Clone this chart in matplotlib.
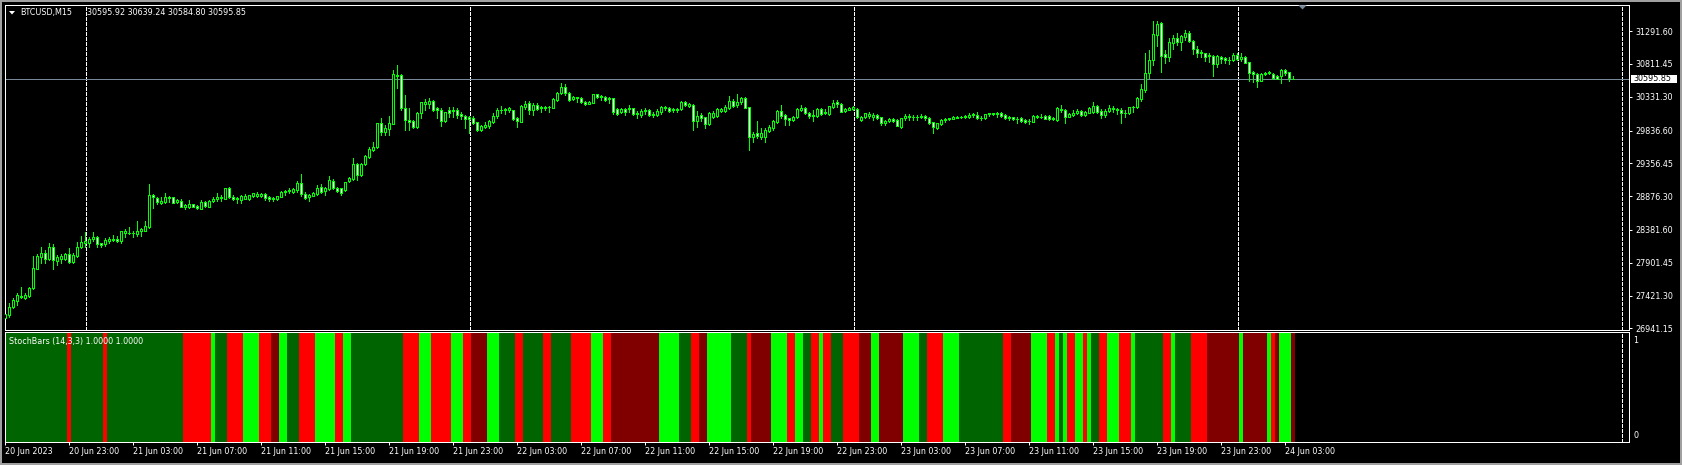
import numpy as np
import pandas as pd
import matplotlib
matplotlib.use("Agg")
import matplotlib.pyplot as plt
from matplotlib.patches import Rectangle, Polygon
import matplotlib.transforms as mtransforms

# ---------------- data ----------------
SYMBOL = "BTCUSD,M15"
HEADER_VALUES = "30595.92 30639.24 30584.80 30595.85"
INDICATOR_NAME = "StochBars (14,3,3) 1.0000 1.0000"
START_TIME = "2023-06-20 19:00"

OPEN = [
    27088, 27137, 27249, 27346, 27415, 27390, 27415, 27527, 27815, 27991,
    28044, 27952, 28132, 27932, 27961, 27956, 28030, 27912, 28005, 28127,
    28195, 28195, 28244, 28278, 28186, 28176, 28225, 28239, 28254, 28215,
    28332, 28337, 28332, 28327, 28361, 28371, 28429, 28888, 28854, 28781,
    28795, 28854, 28859, 28786, 28800, 28713, 28713, 28756, 28737, 28693,
    28791, 28722, 28805, 28830, 28849, 28835, 28995, 28864, 28849, 28820,
    28839, 28839, 28883, 28883, 28878, 28912, 28859, 28849, 28835, 28869,
    28932, 28951, 28942, 28966, 29064, 28912, 28859, 28883, 28908, 29005,
    28947, 28976, 29105, 29000, 28990, 28966, 29098, 29127, 29347, 29186,
    29342, 29444, 29550, 29590, 29942, 29810, 29859, 29937, 30649, 30649,
    30162, 29991, 29976, 29893, 30088, 30220, 30230, 30269, 30161, 30137,
    29976, 30137, 30132, 30132, 30074, 30049, 30030, 30025, 29957, 29844,
    29888, 29908, 29966, 30044, 30132, 30132, 30132, 30132, 30025, 29966,
    30176, 30234, 30137, 30210, 30186, 30171, 30181, 30171, 30283, 30381,
    30479, 30381, 30293, 30322, 30308, 30259, 30225, 30244, 30366, 30327,
    30332, 30293, 30308, 30152, 30103, 30152, 30147, 30161, 30088, 30064,
    30122, 30137, 30074, 30064, 30113, 30171, 30171, 30152, 30132, 30152,
    30249, 30195, 30210, 29981, 30064, 30030, 29927, 30039, 30049, 30127,
    30122, 30171, 30274, 30215, 30249, 30308, 30176, 29747, 29796, 29747,
    29747, 29830, 29869, 29966, 30122, 30064, 30015, 29991, 30030, 30142,
    30171, 30098, 30064, 30054, 30152, 30098, 30074, 30186, 30249, 30225,
    30127, 30142, 30152, 30152, 29996, 30039, 30044, 30039, 30064, 30030,
    29942, 29976, 30005, 29991, 29893, 30015, 30049, 30039, 30030, 30039,
    30049, 30015, 29957, 29879, 29932, 29991, 30000, 30010, 30025, 30039,
    30030, 30034, 30064, 30064, 30020, 30015, 30074, 30074, 30078, 30098,
    30059, 30030, 30030, 30010, 30015, 29991, 29981, 29966, 30049, 30030,
    30049, 30049, 30025, 29991, 30156, 30137, 30040, 30064, 30088, 30127,
    30064, 30098, 30113, 30195, 30127, 30059, 30118, 30147, 30152, 30142,
    30098, 30088, 30176, 30176, 30293, 30430, 30674, 30869, 31234, 31405,
    30956, 30917, 31123, 31186, 31137, 31210, 31269, 31147, 31030, 30991,
    30966, 30942, 30927, 30810, 30917, 30893, 30869, 30869, 30937, 30878,
    30908, 30835, 30698, 30664, 30566, 30664, 30674, 30659, 30640, 30635,
    30722, 30688, 30595.92,
]
HIGH = [
    27161, 27307, 27381, 27454, 27542, 27464, 27552, 28000, 28030, 28132,
    28088, 28186, 28176, 28010, 28030, 28049, 28117, 28039, 28205, 28293,
    28352, 28283, 28352, 28293, 28195, 28259, 28273, 28303, 28293, 28371,
    28391, 28430, 28371, 28517, 28410, 28517, 29054, 28903, 28869, 28864,
    28917, 28878, 28869, 28830, 28830, 28761, 28820, 28766, 28747, 28820,
    28810, 28820, 28859, 28917, 28888, 28995, 29005, 28888, 28869, 28888,
    28908, 28898, 28927, 28932, 28927, 28922, 28878, 28869, 28883, 28956,
    28961, 28990, 29000, 29093, 29200, 28932, 28903, 28937, 29039, 29054,
    29005, 29171, 29130, 29010, 29000, 29090, 29160, 29435, 29366, 29360,
    29480, 29600, 29664, 29952, 30015, 29917, 30049, 30722, 30796, 30659,
    30357, 30162, 29991, 30103, 30259, 30293, 30308, 30279, 30186, 30161,
    30113, 30176, 30176, 30161, 30113, 30064, 30049, 30049, 29966, 29918,
    29966, 29996, 30088, 30161, 30200, 30162, 30181, 30137, 30039, 30210,
    30269, 30269, 30244, 30234, 30200, 30200, 30195, 30308, 30405, 30527,
    30513, 30396, 30347, 30332, 30322, 30274, 30274, 30371, 30376, 30357,
    30347, 30332, 30318, 30162, 30162, 30162, 30210, 30171, 30122, 30147,
    30171, 30147, 30113, 30152, 30200, 30200, 30181, 30171, 30171, 30274,
    30264, 30240, 30220, 30122, 30088, 30039, 30103, 30122, 30161, 30171,
    30210, 30342, 30296, 30371, 30332, 30322, 30186, 29820, 29976, 29879,
    29869, 29918, 29996, 30137, 30210, 30074, 30020, 30054, 30171, 30210,
    30181, 30113, 30137, 30161, 30171, 30152, 30200, 30283, 30283, 30244,
    30161, 30176, 30195, 30161, 30044, 30098, 30103, 30088, 30078, 30039,
    29991, 30015, 30015, 30000, 30025, 30074, 30074, 30064, 30064, 30074,
    30064, 30030, 29966, 29952, 30000, 30015, 30025, 30044, 30054, 30054,
    30059, 30088, 30088, 30103, 30049, 30083, 30098, 30098, 30108, 30108,
    30074, 30049, 30040, 30040, 30030, 30000, 30000, 30059, 30064, 30079,
    30059, 30064, 30030, 30176, 30210, 30147, 30088, 30137, 30147, 30137,
    30122, 30186, 30254, 30205, 30147, 30147, 30210, 30195, 30171, 30161,
    30137, 30186, 30196, 30322, 30518, 30966, 31015, 31444, 31440, 31425,
    31015, 31186, 31235, 31259, 31235, 31308, 31290, 31162, 31074, 31015,
    30976, 30976, 30942, 30937, 30932, 30908, 30908, 30966, 30976, 30966,
    30927, 30844, 30712, 30674, 30674, 30698, 30703, 30674, 30649, 30732,
    30742, 30698, 30639.24,
]
LOW = [
    27024, 27112, 27239, 27283, 27381, 27366, 27395, 27517, 27805, 27893,
    27903, 27942, 27815, 27873, 27903, 27942, 27893, 27903, 27991, 28117,
    28137, 28137, 28225, 28137, 28137, 28151, 28195, 28225, 28200, 28186,
    28273, 28322, 28283, 28288, 28298, 28361, 28415, 28708, 28761, 28756,
    28771, 28795, 28771, 28776, 28713, 28683, 28703, 28713, 28688, 28683,
    28722, 28713, 28791, 28810, 28810, 28830, 28849, 28820, 28781, 28771,
    28830, 28820, 28869, 28869, 28869, 28820, 28810, 28810, 28825, 28859,
    28888, 28927, 28927, 28942, 28878, 28839, 28810, 28873, 28898, 28917,
    28893, 28966, 28985, 28930, 28900, 28950, 29080, 29115, 29110, 29170,
    29330, 29430, 29530, 29580, 29771, 29771, 29771, 29930, 30464, 30137,
    29844, 29844, 29879, 29879, 30015, 30137, 30161, 30127, 30015, 29908,
    29966, 30039, 30039, 30015, 30005, 29879, 29805, 29927, 29830, 29830,
    29869, 29879, 29942, 30025, 30088, 30083, 30113, 29991, 29893, 29957,
    30152, 30078, 30064, 30132, 30113, 30137, 30103, 30161, 30269, 30366,
    30357, 30269, 30283, 30249, 30234, 30210, 30220, 30234, 30308, 30283,
    30269, 30244, 30078, 30064, 30088, 30064, 30113, 30064, 30025, 30039,
    30074, 30054, 30034, 30054, 30074, 30137, 30113, 30113, 30113, 30137,
    30195, 30176, 29844, 29893, 29976, 29869, 29918, 30015, 30030, 30103,
    30103, 30152, 30176, 30186, 30220, 30161, 29552, 29674, 29732, 29713,
    29674, 29810, 29850, 29952, 30015, 29918, 29918, 29976, 30015, 30122,
    30074, 30025, 29981, 30039, 30064, 30074, 30064, 30171, 30176, 30103,
    30113, 30137, 30142, 30015, 29981, 30015, 30015, 29991, 30005, 29918,
    29918, 29966, 29966, 29898, 29879, 29991, 29991, 29991, 29996, 30015,
    29991, 29927, 29805, 29859, 29918, 29966, 29996, 30005, 30015, 30015,
    30020, 30015, 30039, 30000, 29991, 30000, 30049, 30064, 30040, 30040,
    30000, 29991, 29991, 29952, 29966, 29942, 29928, 29957, 30020, 30020,
    30000, 29996, 29991, 29976, 30113, 29952, 30030, 30049, 30074, 30049,
    30049, 30088, 30098, 30088, 30015, 30040, 30108, 30113, 30078, 29942,
    30030, 30078, 30113, 30161, 30274, 30405, 30600, 30795, 31074, 30698,
    30820, 30859, 31025, 31088, 31015, 31162, 31137, 30956, 30917, 30907,
    30859, 30844, 30635, 30771, 30830, 30820, 30810, 30859, 30869, 30859,
    30820, 30566, 30552, 30479, 30557, 30644, 30664, 30596, 30586, 30537,
    30644, 30566, 30584.80,
]
CLOSE = [
    27146, 27249, 27356, 27425, 27405, 27429, 27527, 27820, 28000, 28039,
    27961, 28132, 27937, 27986, 27995, 28030, 27917, 28020, 28132, 28205,
    28220, 28249, 28278, 28171, 28166, 28234, 28254, 28254, 28215, 28361,
    28366, 28332, 28337, 28366, 28391, 28439, 28888, 28859, 28786, 28810,
    28859, 28859, 28781, 28815, 28722, 28742, 28761, 28722, 28698, 28791,
    28732, 28810, 28839, 28864, 28864, 28990, 28859, 28839, 28830, 28873,
    28878, 28888, 28917, 28912, 28912, 28849, 28839, 28839, 28873, 28937,
    28951, 28961, 28981, 29064, 28912, 28854, 28893, 28917, 28995, 28942,
    28995, 29113, 29000, 28945, 28920, 29079, 29147, 29347, 29186, 29347,
    29464, 29560, 29600, 29942, 29820, 29868, 29942, 30659, 30640, 30162,
    29991, 29966, 29893, 30088, 30249, 30249, 30269, 30137, 30142, 29981,
    30103, 30088, 30122, 30064, 30044, 30000, 30010, 29952, 29844, 29903,
    29923, 29976, 30049, 30132, 30137, 30152, 30161, 30005, 29976, 30195,
    30225, 30137, 30210, 30152, 30161, 30186, 30176, 30293, 30386, 30479,
    30381, 30283, 30332, 30308, 30249, 30225, 30259, 30366, 30322, 30342,
    30283, 30308, 30103, 30078, 30152, 30103, 30161, 30074, 30074, 30127,
    30137, 30064, 30064, 30127, 30181, 30181, 30122, 30132, 30152, 30259,
    30210, 30225, 29981, 30049, 30015, 29932, 30088, 30088, 30147, 30152,
    30186, 30274, 30200, 30249, 30308, 30171, 29747, 29781, 29762, 29796,
    29845, 29893, 29976, 30122, 30049, 30000, 29991, 30039, 30152, 30171,
    30098, 30054, 30054, 30152, 30078, 30113, 30195, 30244, 30225, 30113,
    30152, 30171, 30181, 30030, 30030, 30088, 30078, 30064, 30015, 29942,
    29976, 30005, 29981, 29908, 30015, 30049, 30039, 30030, 30039, 30054,
    30015, 29952, 29893, 29942, 29991, 30005, 30015, 30030, 30039, 30030,
    30049, 30064, 30074, 30015, 30025, 30074, 30088, 30088, 30093, 30049,
    30025, 30020, 30000, 30005, 29981, 29966, 29971, 30049, 30030, 30040,
    30010, 30010, 30000, 30161, 30132, 30040, 30078, 30088, 30127, 30064,
    30113, 30171, 30195, 30113, 30059, 30127, 30171, 30171, 30137, 30098,
    30088, 30176, 30186, 30308, 30440, 30674, 30869, 31249, 31396, 30932,
    30917, 31127, 31186, 31137, 31220, 31259, 31147, 31025, 30976, 30966,
    30917, 30922, 30810, 30927, 30888, 30869, 30874, 30937, 30878, 30908,
    30830, 30683, 30664, 30566, 30664, 30683, 30688, 30605, 30596, 30722,
    30674, 30600, 30595.85,
]

# StochBars state per bar, as runs: G = dark green, L = lime, R = red, M = maroon
STOCH_CODES = list("GRGRGRLGRLRMLGRLRLGRLRLRMLGRGRGRLRMLGRMLGRMLRLGRLRGRMLMLGRLGRMLRLGLRLRLGRLRLGRLGRMLMLRMLM")
STOCH_RUNS = [16, 1, 8, 1, 19, 7, 1, 3, 4, 4, 3, 2, 2, 3, 4, 5, 2, 2, 13, 4, 3, 5, 3, 2, 4, 3, 4, 2, 5, 2,
              5, 5, 3, 2, 12, 5, 3, 2, 2, 6, 4, 1, 5, 4, 2, 2, 2, 2, 1, 2, 3, 4, 3, 2, 6, 4, 2, 4, 4, 11,
              2, 5, 4, 2, 1, 1, 1, 2, 2, 1, 1, 2, 2, 3, 3, 1, 7, 2, 1, 4, 4, 8, 1, 6, 1, 1, 1, 3, 1]

PRICE_TICKS = [31291.60, 30811.45, 30331.30, 29836.60, 29356.45, 28876.30,
               28381.60, 27901.45, 27421.30, 26941.15]
TIME_LABELS = ["20 Jun 2023", "20 Jun 23:00", "21 Jun 03:00", "21 Jun 07:00", "21 Jun 11:00",
               "21 Jun 15:00", "21 Jun 19:00", "21 Jun 23:00", "22 Jun 03:00", "22 Jun 07:00",
               "22 Jun 11:00", "22 Jun 15:00", "22 Jun 19:00", "22 Jun 23:00", "23 Jun 03:00",
               "23 Jun 07:00", "23 Jun 11:00", "23 Jun 15:00", "23 Jun 19:00", "23 Jun 23:00",
               "24 Jun 03:00"]
LABEL_EVERY = 16

# ---------------- styling ----------------
W, H, DPI = 1682, 465, 100
PX = 72.0 / DPI
FONT = "DejaVu Sans"
FS = 5.8
LIME = "#00ff00"
STOCH_COLORS = {"G": "#006400", "L": "#00ff00", "R": "#ff0000", "M": "#800000"}
PRICE_LINE = "#778899"

o = np.array(OPEN, float); h = np.array(HIGH, float)
l = np.array(LOW, float); c = np.array(CLOSE, float)
n = len(c)
h = np.maximum(h, np.maximum(o, c)); l = np.minimum(l, np.minimum(o, c))
idx = np.arange(n)

fig = plt.figure(figsize=(W / DPI, H / DPI), dpi=DPI, facecolor="black")


def px_axes(x0, y0, x1, y1):
    return fig.add_axes([x0 / W, 1 - y1 / H, (x1 - x0) / W, (y1 - y0) / H])


ax = px_axes(4.7, 4.7, 1629.3, 330.0)
ax2 = px_axes(4.7, 332.3, 1629.3, 442.0)
XLIM = (-0.0925, 406.06)
for a in (ax, ax2):
    a.set_facecolor("black")
    for s in a.spines.values():
        s.set_color("white")
        s.set_linewidth(PX)
    a.set_xlim(*XLIM)

ax.set_ylim(26917.8, 31677.9)
ax2.set_ylim(0, 1)

# day separators (dotted grid)
times = pd.date_range(START_TIME, periods=int(XLIM[1]) + 2, freq="15min")
day_lines = [i for i, t in enumerate(times) if t.hour == 0 and t.minute == 0]
for a in (ax, ax2):
    for d in day_lines:
        a.axvline(d + 0.15, color="white", lw=PX, ls=(0, (3, 2)), zorder=0.5,
                  antialiased=False)

# last price line
ax.axhline(c[-1], color=PRICE_LINE, lw=PX, zorder=1, antialiased=False)

# candles
ax.vlines(idx, l, h, color=LIME, lw=PX, zorder=2, antialiased=False)
bull = c >= o
body = c - o
body = np.where(np.abs(body) < 1e-6, 1e-6, body)
ax.bar(idx, body, bottom=o, width=0.5,
       color=np.where(bull, "black", "white"), edgecolor=LIME,
       linewidth=PX, zorder=3, antialiased=False)

# stoch bars
codes = [code for code, run in zip(STOCH_CODES, STOCH_RUNS) for _ in range(run)]
ax2.bar(np.arange(len(codes)), np.ones(len(codes)), width=1.02, bottom=0,
        color=[STOCH_COLORS[k] for k in codes], linewidth=0, zorder=2,
        antialiased=False)

# price axis
ax.set_xticks([])
ax.yaxis.tick_right()
ax.set_yticks(PRICE_TICKS)
ax.set_yticklabels([f"{v:.2f}" for v in PRICE_TICKS], fontfamily=FONT)
ax.tick_params(axis="y", colors="white", length=3 * PX, width=PX, direction="out",
               labelsize=FS, pad=2.0)

# time axis
ax2.set_yticks([])
label_pos = np.arange(len(TIME_LABELS)) * LABEL_EVERY
ax2.set_xticks(label_pos)
ax2.set_xticklabels(TIME_LABELS, fontfamily=FONT, ha="left")
ax2.tick_params(axis="x", colors="white", length=3 * PX, width=PX, direction="out",
                labelsize=FS, pad=1.2)

# indicator scale labels
fig.text(1633 / W, 1 - 340 / H, "1", color="white", fontsize=FS, family=FONT,
         va="center", ha="left")
fig.text(1633 / W, 1 - 435.5 / H, "0", color="white", fontsize=FS, family=FONT,
         va="center", ha="left")

# headers
fig.patches.append(Polygon([[9 / W, 1 - 11 / H], [15 / W, 1 - 11 / H], [12 / W, 1 - 14.5 / H]],
                           closed=True, transform=fig.transFigure, facecolor="white",
                           edgecolor="none"))
fig.text(20.5 / W, 1 - 12.5 / H, SYMBOL, color="white", fontsize=FS, family=FONT,
         va="center", ha="left")
fig.text(87.3 / W, 1 - 12.5 / H, HEADER_VALUES, color="white", fontsize=FS, family=FONT,
         va="center", ha="left")
fig.text(9 / W, 1 - 341.7 / H, INDICATOR_NAME, color="white", fontsize=FS, family=FONT,
         va="center", ha="left", zorder=10)

# current price box
ytr = mtransforms.blended_transform_factory(fig.transFigure, ax.transData)
fig.patches.append(Rectangle((1631 / W, 1 - 83.3 / H), 46 / W, 8.6 / H,
                             transform=fig.transFigure, facecolor="white", edgecolor="none"))
fig.text(1633.5 / W, c[-1], f"{c[-1]:.2f}", transform=ytr, color="black", fontsize=FS,
         family=FONT, va="center", ha="left")

# chart shift marker
fig.patches.append(Polygon([[1298.3 / W, 1 - 5.2 / H], [1306.7 / W, 1 - 5.2 / H],
                            [1302.5 / W, 1 - 9.5 / H]], closed=True,
                           transform=fig.transFigure, facecolor=PRICE_LINE, edgecolor="none"))

# window border
fig.patches.append(Rectangle((0, 0), 1, 1, transform=fig.transFigure, fill=False,
                             edgecolor="#a0a0a0", linewidth=4 * PX))

fig.savefig("out.png", dpi=DPI, facecolor="black")
